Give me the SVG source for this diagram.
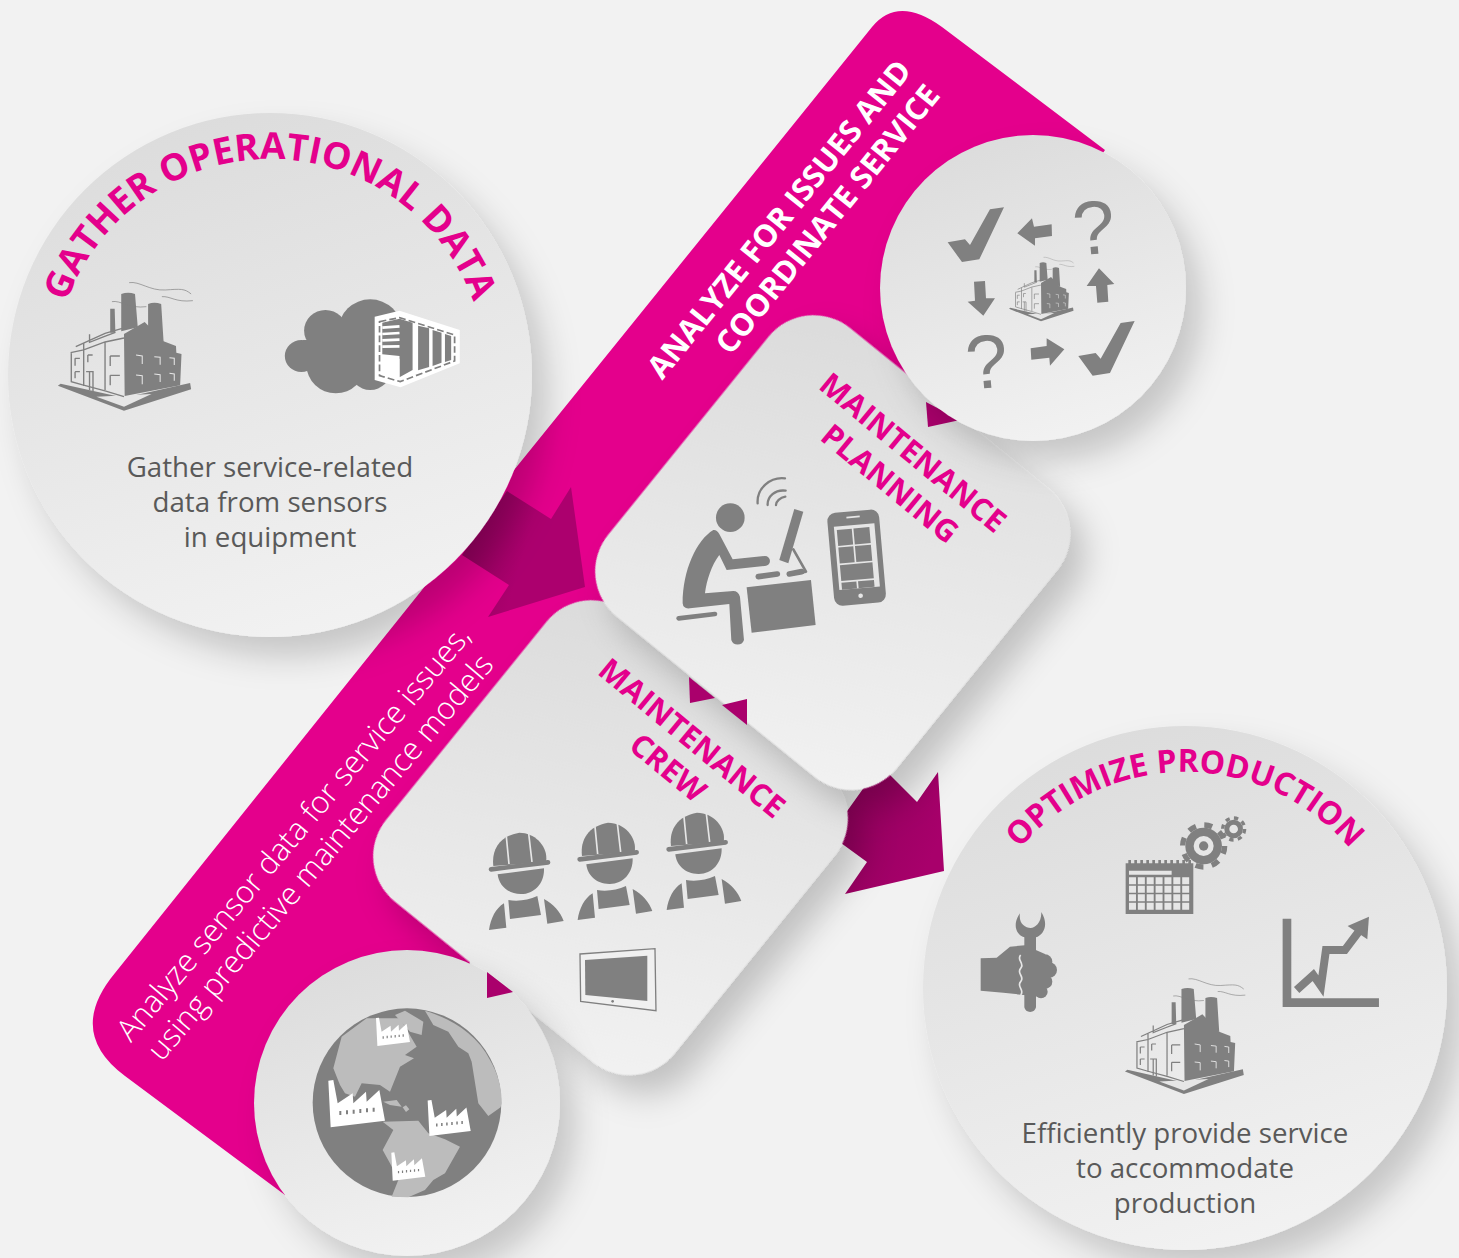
<svg xmlns="http://www.w3.org/2000/svg" xmlns:xlink="http://www.w3.org/1999/xlink" width="1459" height="1258" viewBox="0 0 1459 1258">
<style>
text{font-family:"Open Sans","Noto Sans","Liberation Sans",sans-serif}
.head{font-weight:700;fill:#e4008c}
.white{fill:#fff}
.body{font-size:27.700px;fill:#595959;text-anchor:middle;font-weight:400}
.ic{fill:#808080}
.lt{fill:#e6e6e6}
.ln{fill:none;stroke:#808080;stroke-linecap:round;stroke-linejoin:round}
.dk{fill:#aa006c}
.q{font-family:"Liberation Sans",sans-serif;font-size:76px;fill:#808080;text-anchor:middle}
</style>
<defs>
<filter id="sh" x="-30%" y="-30%" width="170%" height="170%"><feDropShadow dx="16" dy="20" stdDeviation="16" flood-color="#000" flood-opacity=".18"/></filter>
<filter id="shc" x="-30%" y="-30%" width="170%" height="170%"><feDropShadow dx="25" dy="5.500" stdDeviation="16" flood-color="#000" flood-opacity=".2"/></filter>
<linearGradient id="gc" x1=".35" y1="0" x2=".65" y2="1"><stop offset="0" stop-color="#dcdcdc"/><stop offset="1" stop-color="#f2f2f2"/></linearGradient>
<linearGradient id="gr" gradientUnits="userSpaceOnUse" x1="-115" y1="-195" x2="115" y2="195"><stop offset="0" stop-color="#dcdcdc"/><stop offset="1" stop-color="#f1f1f1"/></linearGradient>
<linearGradient id="ga" x1="0" y1="0" x2="1" y2=".3"><stop offset="0" stop-color="#8a0058"/><stop offset=".6" stop-color="#ac006e"/></linearGradient>
<linearGradient id="gb" x1="0" y1="0" x2="1" y2=".5"><stop offset="0" stop-color="#8c0059"/><stop offset="1" stop-color="#a8006b"/></linearGradient>
<g id="factory">
<path class="ic" d="M168 857l8-6 184 42 192-44 3 19-195 64z"/>
<path class="lt" d="M280 890l160-8-80 38z"/>
<path class="ic" d="M352 582q20-8 40 0l8 100-48 12zM430 612q18-8 38 0l7 113-45-30zM320 626h13l2 72h-15z"/>
<path class="ic" d="M360 702l60-36 55 58 36 14 1 20 15 4-4 94-161 32z"/>
<path d="M220 740l85-40 55-16M205 758l38-8 62-24 55-12M305 728v142M243 730v128M207 760v85l33 10 65 18 55 17M260 703v24l40-16 35-14" fill="none" stroke="#808080" stroke-width="4"/>
<path d="M320 768h28M320 768v30M320 826h28M320 826v30M255 765h14M255 765v22M218 775h14M218 775v22M218 815h14M218 815v20M250 815h20v58M260 815v55" fill="none" stroke="#808080" stroke-width="4"/>
<path d="M395 765l18 3v24M448 770l17 2v22M492 773l14 2v20M395 825l18 2v26M448 822l17 2v22M492 820l14 2v20" fill="none" stroke="#e6e6e6" stroke-width="3"/>
<path d="M375 548c30-5 60 25 105 22s55-5 75 12M470 590c25-2 40 18 90 12M325 605c25-5 50 22 100 15" fill="none" stroke="#808080" stroke-width="2"/>
</g>
<g id="mark"><path fill="#fff" d="M0 2l15-2 13 70 45-30 2 30 38-35 2 30 38-35 17 92-163 20z"/><path fill="#808080" d="M33 93h6v12h-6zM53 91h6v12h-6zM73 89h6v12h-6zM93 87h6v12h-6zM113 85h6v12h-6zM133 83h6v12h-6z"/></g>
<g id="worker">
<path class="ic" d="M100 258c-6-50 20-90 78-100 50 0 88 45 80 88z"/>
<path d="M139 170l8 82M206 160l10 86" stroke="#e6e6e6" stroke-width="5" fill="none"/>
<path d="M93 268l171-21" class="ln" stroke-width="14"/>
<path class="ic" d="M113 283l139-18c2 45-30 78-70 77-40 0-66-28-69-59z"/>
<path class="ic" d="M87 450c5-35 20-65 45-80l7 73zM145 360c30 5 60 0 87-12l11 57-93 12zM252 357c28 15 50 40 59 66l-49 8z"/>
</g>
<path id="arcG" d="M54 375A216 216 0 0 1 486 375"/>
<path id="arcO" d="M969 988A216 216 0 0 1 1401 988"/>
</defs>
<rect width="1459" height="1258" fill="#f2f2f2"/>
<g id="band">
<path fill="#e4008c" d="M872 27Q898-5 942 27L1105 150L1000 300L880 400L620 620L500 800L470 962L440 1050L285 1195L125 1076Q66 1032 115 973L470 530L510 475Z"/>
<g class="head white" font-size="31">
<text class="white" text-anchor="middle" transform="translate(787.500 226) rotate(-51)">ANALYZE FOR ISSUES AND</text>
<text class="white" text-anchor="middle" transform="translate(836 226) rotate(-51)">COORDINATE SERVICE</text>
</g>
<g font-size="31" fill="#fff" font-weight="300">
<text class="white" text-anchor="middle" transform="translate(301.500 840) rotate(-50)">Analyze sensor data for service issues,</text>
<text class="white" text-anchor="middle" transform="translate(328.500 864) rotate(-50)">using predictive maintenance models</text>
</g>
</g>
<g id="connectors">
<polygon fill="url(#ga)" points="571,487 585,587 488,617 509,585 462,555 507,491 551,519"/>
<polygon fill="url(#gb)" points="938,772 944,871 845,894 867,862 830,835 880,765 917,802"/>
</g>
<g id="gather-node">
<circle cx="270" cy="375" r="262" fill="url(#gc)" filter="url(#sh)"/>
<text class="head" font-size="37" text-anchor="middle"><textPath href="#arcG" startOffset="50%">GATHER OPERATIONAL DATA</textPath></text>
<use href="#factory" transform="translate(0 100) scale(.3444 .3333)"/>
<g transform="translate(0 100) scale(.3444 .3333)">
<g class="ic"><circle cx="875" cy="768" r="48"/><circle cx="945" cy="692" r="62"/><circle cx="1075" cy="690" r="92"/><circle cx="975" cy="795" r="85"/><circle cx="1075" cy="810" r="60"/><rect x="880" y="720" width="230" height="90"/></g>
<path fill="#fff" d="M1088 650l72-18 175 58v100l-172 72-75-22z"/>
<path d="M1102 665l58-12 160 52v78l-158 62-60-18z" fill="none" stroke="#808080" stroke-width="5" stroke-dasharray="20 9"/>
<path class="ic" d="M1110 668l50-12v112l-50-5zM1160 656l38 12v142l-38 22zM1214 677l32 8v116l-32 10zM1256 690l26 8v90l-26 10zM1292 702l18 6v72l-18 6z"/>
<path d="M1110 683l50-4M1110 702l50-3M1110 721l50-2M1110 740l50-1" stroke="#fff" stroke-width="8" fill="none"/>
<path fill="#fff" d="M1110 772l50 4v60l-50-10z"/>
</g>
<text class="body" x="270" y="477">Gather service-related</text>
<text class="body" x="270" y="512">data from sensors</text>
<text class="body" x="270" y="547">in equipment</text>
</g>
<g id="crew-node">
<rect x="-185.500" y="-185.500" width="371" height="371" rx="58" fill="url(#gr)" filter="url(#shc)" transform="translate(610.500 837.500) rotate(39)"/>
<text class="head" font-size="31" text-anchor="middle" transform="translate(685 746.500) rotate(39.500)">MAINTENANCE</text>
<text class="head" font-size="31" text-anchor="middle" transform="translate(661 776) rotate(39.500)">CREW</text>
<g transform="translate(460 780) scale(.3333)">
<use href="#worker"/><use href="#worker" transform="translate(266 -30)"/><use href="#worker" transform="translate(533 -60)"/>
<path d="M360 522l225-16 3 186-226-28z" fill="#f0f0f0" stroke="#808080" stroke-width="4"/>
<path class="ic" d="M375 540l187-13v136l-186-18z"/><circle class="ic" cx="458" cy="664" r="4"/>
</g>
</g>
<g id="planning-node">
<rect x="-185.500" y="-185.500" width="371" height="371" rx="58" fill="url(#gr)" filter="url(#shc)" transform="translate(832.500 552.500) rotate(39)"/>
<text class="head" font-size="31" text-anchor="middle" transform="translate(906 461) rotate(39.500)">MAINTENANCE</text>
<text class="head" font-size="31" text-anchor="middle" transform="translate(883 492) rotate(39.500)">PLANNING</text>
<g transform="translate(440 460) scale(.3333)">
<circle class="ic" cx="871" cy="173" r="43"/>
<path class="ic" d="M820 210C770 240 728 330 728 430Q730 448 750 445L868 432L874 540a20 20 0 0 0 38 0L900 410Q895 393 880 393L795 400C800 360 815 315 838 285L860 330L975 318a15 15 0 0 0 0-30L878 298L838 222Q830 208 820 210Z"/>
<path class="ln" stroke-width="14" d="M716 475L825 462"/>
<path class="ic" d="M920 382L1113 360L1127 495L935 518Z"/>
<path class="ln" stroke-width="17" d="M955 350L1012 342M1048 342L1085 335"/>
<path class="ic" d="M1063 147L1090 155L1045 310L1018 300Z"/>
<path class="ln" stroke-width="8" d="M1060 268L1098 335L1045 345"/>
<path class="ln" stroke-width="7" d="M953 130C950 85 990 50 1035 55M983 135C982 110 1005 88 1037 92M1008 135C1008 125 1020 112 1036 110"/>
<g transform="rotate(-5 1250 293)">
<rect class="ic" x="1172" y="153" width="156" height="280" rx="25"/>
<rect class="lt" x="1190" y="195" width="122" height="190"/>
<path class="ic" d="M1198 205h45v48h-45zM1248 205h48v48h-48zM1198 258h45v48h-45zM1248 258h48v48h-48zM1198 311h98v48h-98zM1198 364h45v21h-45zM1248 364h48v21h-48z"/>
<circle class="lt" cx="1252" cy="408" r="7"/><rect class="lt" x="1230" y="168" width="40" height="5"/>
</g>
</g>
</g>
<g id="analyze-node">
<polygon class="dk" points="926,402 928,427 960,420"/>
<circle cx="1033" cy="288" r="153" fill="url(#gc)" filter="url(#sh)"/>
<use href="#factory" transform="translate(981 166) scale(.1667)"/>
<g transform="translate(880 130) scale(.3333)"><g class="ic">
<path d="M372 232L330 238L270 345L255 328L203 337L246 396L298 388Z"/>
<path d="M764 573L722 579L662 686L647 669L595 678L638 737L690 729Z"/>
<path d="M412 310L456 265L462 290L515 283L516 318L465 325L465 347Z"/>
<path d="M282 455L315 453L318 505L345 505L310 557L263 515L285 512Z"/>
<path d="M657 415L703 462L682 465L685 515L652 518L648 468L620 468Z"/>
<path d="M452 655L500 648L500 625L553 658L510 707L508 683L454 689Z"/>
</g></g>
<text class="q" transform="translate(1096 254) rotate(-5)">?</text>
<text class="q" transform="translate(989 388) rotate(-5)">?</text>
</g>
<g id="globe-node">
<circle cx="407" cy="1103" r="153" fill="url(#gc)" filter="url(#sh)"/>
<polygon class="dk" points="487,972 487,998 513,992"/>
<g transform="translate(290 990) scale(.3333)">
<circle class="ic" cx="351" cy="338" r="283"/>
<g fill="#bcbcbc">
<path d="M155 140L230 85L330 85L380 170L345 195L372 205L330 230L300 305L270 285L215 280L195 320L165 310L150 285L130 235Z"/>
<path d="M315 75L345 62L400 95L395 135L360 125Z"/>
<path d="M405 62C480 85 560 130 600 210C630 260 640 320 632 352L595 378L565 340L545 215L535 190L505 170L475 125L430 105Z"/>
<path d="M278 395L385 392L415 430L465 448L510 470L465 550L430 570L405 600L355 622L305 620L325 570L300 520L278 480L310 420Z"/>
<path d="M280 335L320 330L335 350L300 345ZM338 352L348 346L358 358L348 366Z"/>
</g>
<use href="#mark" transform="translate(115 270)"/>
<use href="#mark" transform="translate(413 330) scale(.76)"/>
<use href="#mark" transform="translate(258 83) scale(.6)"/>
<use href="#mark" transform="translate(304 487) scale(.6)"/>
</g>
</g>
<g id="optimize-node">
<circle cx="1185" cy="988" r="262" fill="url(#gc)" filter="url(#sh)"/>
<text class="head" font-size="32" text-anchor="middle"><textPath href="#arcO" startOffset="50%">OPTIMIZE PRODUCTION</textPath></text>
<use href="#factory" transform="translate(1073.400 814.500) scale(.307 .3)"/>
<g transform="translate(960 800) scale(.3333)">
<path class="ic" d="M62 475L110 473L150 440L195 436L255 462L255 590L190 585L130 578L62 572Z"/>
<circle class="ic" cx="255" cy="485" r="22"/><circle class="ic" cx="268" cy="510" r="23"/><circle class="ic" cx="255" cy="545" r="22"/><circle class="ic" cx="243" cy="575" r="20"/>
<path class="ic" d="M180 340C155 375 170 405 193 412V622a18 18 0 0 0 35 0V412C250 405 268 375 244 336C245 368 225 384 212 384C195 384 175 370 180 340Z"/>
<path d="M182 465c-14 15 14 25 0 40s14 25 0 40s14 25 0 40" fill="none" stroke="#e6e6e6" stroke-width="5"/>
<path class="ic" d="M497 190h203v152H497z"/>
<path d="M505 187H700" stroke="#808080" stroke-width="14" stroke-dasharray="8 10" fill="none"/>
<path class="lt" d="M507 212h128v12H507z"/>
<path stroke="#e6e6e6" stroke-width="21" stroke-dasharray="21 5.600" fill="none" d="M507 242.500H690M507 268H690M507 293.500H690M507 319H690"/>
<circle class="ic" cx="731" cy="138" r="55"/><circle cx="731" cy="138" r="63" fill="none" stroke="#808080" stroke-width="16" stroke-dasharray="24 25.500"/><circle class="lt" cx="731" cy="138" r="30"/><circle class="ic" cx="731" cy="138" r="14"/>
<circle class="ic" cx="821" cy="87" r="28"/><circle cx="821" cy="87" r="33" fill="none" stroke="#808080" stroke-width="10" stroke-dasharray="13 12.900"/><circle class="lt" cx="821" cy="87" r="13"/>
<path d="M981 356V608H1257" fill="none" stroke="#808080" stroke-width="26"/>
<path d="M1010 570L1060 525L1083 558L1098 450H1155L1200 390" fill="none" stroke="#808080" stroke-width="24"/>
<path class="ic" d="M1227 350L1163 378L1222 418Z"/>
</g>
<text class="body" x="1185" y="1143">Efficiently provide service</text>
<text class="body" x="1185" y="1178">to accommodate</text>
<text class="body" x="1185" y="1213">production</text>
</g>
<g id="small-arrows">
<polygon class="dk" points="689,677 690,703 715,698"/>
<polygon class="dk" points="722,705 747,699 747,725"/>
</g>
</svg>
